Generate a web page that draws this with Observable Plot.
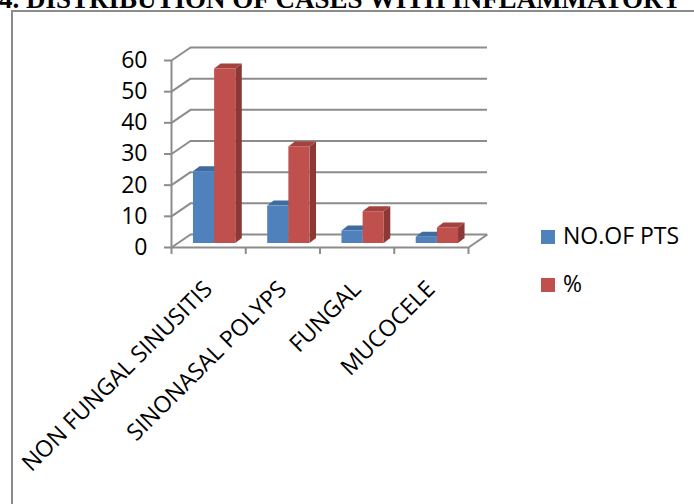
<!DOCTYPE html>
<html>
<head>
<meta charset="utf-8">
<script src="https://cdn.jsdelivr.net/npm/d3@7"></script>
<script src="https://cdn.jsdelivr.net/npm/@observablehq/plot@0.6"></script>
<style>
  html, body { margin: 0; padding: 0; background: #fff; overflow: hidden; }
  #wrap { position: relative; width: 694px; height: 504px; overflow: hidden; }
  #frame { position: absolute; left: 11px; top: 10px; right: -10px; bottom: -10px;
           border-left: 2px solid #8c8c8c; border-top: 2px solid #8c8c8c; }
  #title { position: absolute; left: -1px; top: -14px; white-space: nowrap;
           font: bold 27px "Liberation Serif", "Times New Roman", serif; line-height: 27px; color: #000; }
  #chart { position: absolute; left: 0; top: 0; }
  .lg { position: absolute; font: 23px "Open Sans", sans-serif; line-height: 23px; color: #000; white-space: nowrap; }
  .sw { position: absolute; width: 14px; height: 14px; }
</style>
</head>
<body>
<div id="wrap">
  <div id="frame"></div>
  <div id="chart"></div>
  <div id="title"></div>
  <div id="legend"></div>
</div>
<script>
const titleText = "4. DISTRIBUTION OF CASES WITH INFLAMMATORY";
const categories = ["NON FUNGAL SINUSITIS", "SINONASAL POLYPS", "FUNGAL", "MUCOCELE"];
const seriesNames = ["NO.OF PTS", "%"];
const noOfPts = [23, 12, 4, 2];
const percent = [56, 31, 10.2, 5];
const yTicks = [0, 10, 20, 30, 40, 50, 60];

const seriesValues = [noOfPts, percent];
const frontColors = ["#4F81BD", "#C0504D"];
const sideColors = ["#385D8A", "#8C3836"];
const topColors = ["#3E6BA0", "#A3423F"];
const grid = "#8c8c8c";

const W = 694, H = 504, mL = 171, mR = 226, mT = 60, mB = 257;
const xppu = (W - mL - mR) / categories.length;
const yppu = (H - mT - mB) / 60;
// wall depth (px) and bar depth (px) expressed in data units
const wx = 19 / xppu, wy = 13 / yppu;
const bx = 6.5 / xppu, by = 5 / yppu;
const barDx = 6, barDy = -4;
const slots = [[0.215, 0.5], [0.5, 0.785]];

document.getElementById("title").textContent = titleText;

const marks = [];
// back wall gridlines
marks.push(Plot.ruleY(yTicks, {x1: 0, x2: categories.length, stroke: grid, strokeWidth: 2, dx: 19, dy: -13}));
// side wall diagonals
marks.push(Plot.link(yTicks, {x1: 0, y1: d => d, x2: wx, y2: d => d + wy, stroke: grid, strokeWidth: 2}));
// floor right edge
marks.push(Plot.link([0], {x1: categories.length, y1: 0, x2: categories.length + wx, y2: wy, stroke: grid, strokeWidth: 2}));
// front axis lines
marks.push(Plot.ruleY([0], {x1: 0, x2: categories.length, stroke: grid, strokeWidth: 2}));
marks.push(Plot.ruleX([0], {y1: 0, y2: 60, stroke: grid, strokeWidth: 2}));

seriesValues.forEach((vals, s) => {
  const bars = vals.map((v, i) => ({id: i, v, xl: i + slots[s][0], xr: i + slots[s][1]}));
  const side = bars.flatMap(b => [
    {id: b.id, x: b.xr, y1: 0, y2: b.v},
    {id: b.id, x: b.xr + bx, y1: by, y2: b.v + by}
  ]);
  const top = bars.flatMap(b => [
    {id: b.id, y: b.v, x1: b.xl, x2: b.xr},
    {id: b.id, y: b.v + by, x1: b.xl + bx, x2: b.xr + bx}
  ]);
  marks.push(Plot.areaY(side, {x: "x", y1: "y1", y2: "y2", z: "id", fill: sideColors[s], curve: "linear", dx: barDx, dy: barDy}));
  marks.push(Plot.areaX(top, {y: "y", x1: "x1", x2: "x2", z: "id", fill: topColors[s], curve: "linear", dx: barDx, dy: barDy}));
  marks.push(Plot.rect(bars, {x1: "xl", x2: "xr", y1: 0, y2: "v", fill: frontColors[s], dx: barDx, dy: barDy}));
});

marks.push(Plot.axisY({ticks: yTicks, tickSize: 7, tickPadding: 17, stroke: grid, strokeWidth: 2, fill: "#000", label: null}));
marks.push(Plot.axisX({ticks: d3.range(categories.length + 1), tickSize: 7, tickFormat: () => "", stroke: grid, strokeWidth: 2, label: null}));
marks.push(Plot.text(categories, {x: (d, i) => i + 0.5, y: 0, text: d => d, rotate: -45, textAnchor: "end", lineAnchor: "bottom", dx: 5, dy: 43, fill: "#000"}));

const chart = Plot.plot({
  width: W, height: H,
  marginLeft: mL, marginRight: mR, marginTop: mT, marginBottom: mB,
  x: {type: "linear", domain: [0, categories.length]},
  y: {type: "linear", domain: [0, 60]},
  style: {fontFamily: "'Open Sans', sans-serif", fontSize: "23px", background: "transparent", overflow: "visible"},
  marks
});
document.getElementById("chart").appendChild(chart);

// legend
const legend = document.getElementById("legend");
const legendTops = [230, 278];
seriesNames.forEach((name, s) => {
  const sw = document.createElement("div");
  sw.className = "sw";
  sw.style.left = "541px";
  sw.style.top = legendTops[s] + "px";
  sw.style.background = frontColors[s];
  legend.appendChild(sw);
  const t = document.createElement("div");
  t.className = "lg";
  t.style.left = "563px";
  t.style.top = (legendTops[s] - 6.5) + "px";
  t.textContent = name;
  legend.appendChild(t);
});
</script>
</body>
</html>
